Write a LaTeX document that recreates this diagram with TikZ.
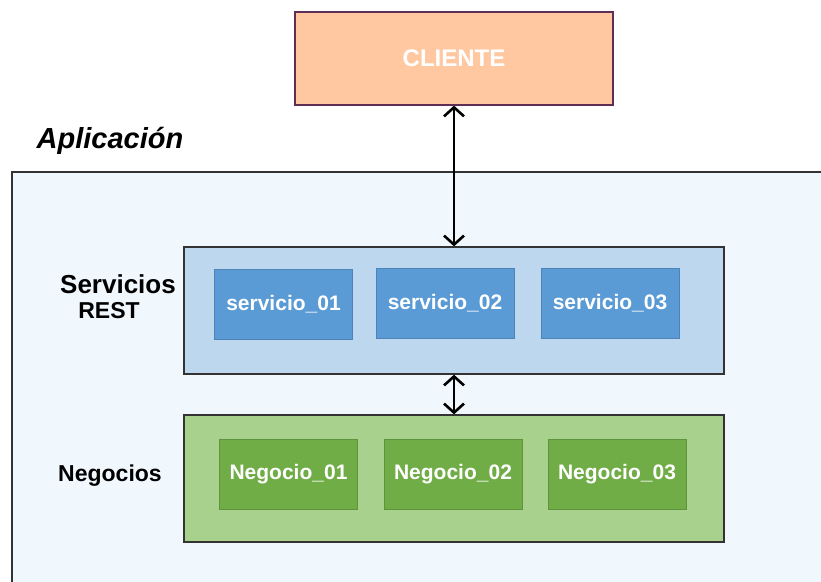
\documentclass[tikz,border=0pt]{standalone}
\usepackage{fontspec}
\setmainfont{Liberation Sans}
\usetikzlibrary{arrows.meta}
\definecolor{clientefondo}{HTML}{FFC8A0}
\definecolor{clienteborde}{HTML}{5E2E55}
\definecolor{appfondo}{HTML}{F0F7FD}
\definecolor{servfondo}{HTML}{BDD7EE}
\definecolor{servcaja}{HTML}{5B9BD5}
\definecolor{negfondo}{HTML}{A9D18E}
\definecolor{negcaja}{HTML}{70AD47}

\begin{document}
\begin{tikzpicture}[x=1pt,y=-1pt,
		cliente/.style={draw=clienteborde,line width=1.2pt,fill=clientefondo,minimum width=318pt,minimum height=93pt,text=white,font=\fontsize{24}{28}\selectfont\bfseries},
		capa/.style={draw=black!80,line width=1.3pt,minimum width=540pt,minimum height=127pt},
		caja/.style={line width=0.6pt,minimum width=138pt,minimum height=70pt,text=white,font=\fontsize{21}{25}\selectfont\bfseries},
		etiqueta/.style={font=\fontsize{23}{27}\selectfont\bfseries},
		flecha/.style={line width=2.6pt,{Straight Barb[length=9pt,width=20pt]}-{Straight Barb[length=9pt,width=20pt]}}]
			\useasboundingbox (0,0) rectangle (821,581);
			\clip (0,0) rectangle (821,581);
			\draw[draw=black!80,line width=1.3pt,fill=appfondo] (12,172) rectangle (840,600);
			\node[font=\fontsize{29}{33}\selectfont\bfseries\itshape] (aplicacion) at (110,141) {Aplicación};
			\node[cliente] (cliente) at (454,58.5) {CLIENTE};
			\node[capa,fill=servfondo] (servicios) at (454,310.5) {};
			\node[caja,fill=servcaja,draw=servcaja!85!black] (servicio1) at (283.5,304) {servicio\_01};
			\node[caja,fill=servcaja,draw=servcaja!85!black] (servicio2) at (445,303) {servicio\_02};
			\node[caja,fill=servcaja,draw=servcaja!85!black] (servicio3) at (610,303) {servicio\_03};
			\node[etiqueta,font=\fontsize{26}{30}\selectfont\bfseries] (lblservicios) at (118,284) {Servicios};
			\node[etiqueta] (lblrest) at (109,311) {REST};
			\node[capa,fill=negfondo] (negocios) at (454,478.5) {};
			\node[caja,fill=negcaja,draw=negcaja!85!black] (negocio1) at (288.5,474) {Negocio\_01};
			\node[caja,fill=negcaja,draw=negcaja!85!black] (negocio2) at (453,474) {Negocio\_02};
			\node[caja,fill=negcaja,draw=negcaja!85!black] (negocio3) at (617,474) {Negocio\_03};
			\node[etiqueta] (lblnegocios) at (110,476) {Negocios};
			\draw[flecha] (cliente.south) -- (servicios.north);
			\draw[flecha] (servicios.south) -- (negocios.north);
		\end{tikzpicture}
\end{document}
